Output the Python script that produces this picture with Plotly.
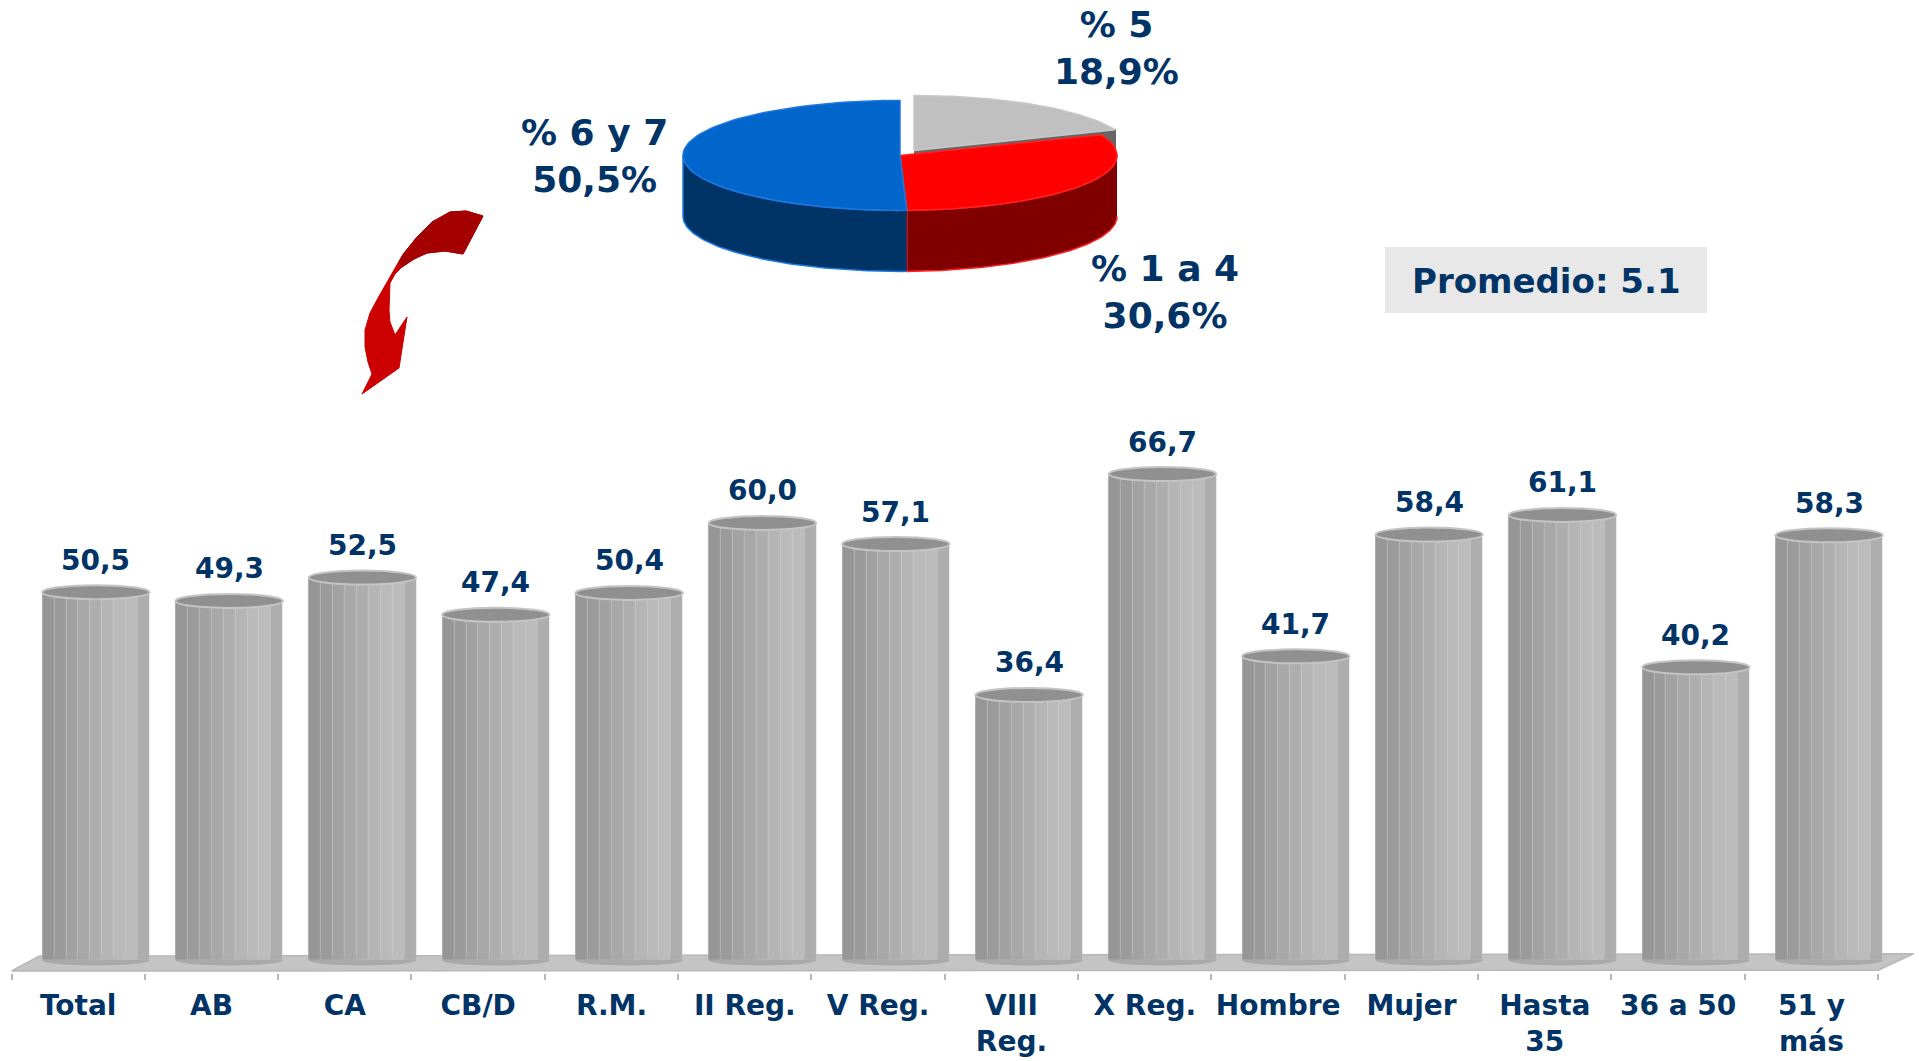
import numpy as np
import plotly.graph_objects as go

# ---------------- data ----------------
categories = ["Total", "AB", "CA", "CB/D", "R.M.", "II Reg.", "V Reg.", "VIII<br>Reg.",
              "X Reg.", "Hombre", "Mujer", "Hasta<br>35", "36 a 50", "51 y<br>más"]
values = [50.5, 49.3, 52.5, 47.4, 50.4, 60.0, 57.1, 36.4, 66.7, 41.7, 58.4, 61.1, 40.2, 58.3]

pie_labels = ["% 5", "% 1 a 4", "% 6 y 7"]
pie_values = [18.9, 30.6, 50.5]

promedio_text = "Promedio: 5.1"

# ---------------- style ----------------
W, H = 1919, 1061
NAVY = "#003366"
FONT = "DejaVu Sans"
PX_PER_CAT = 133.33
X_LEFT_PX = 11.5
Y0_PX = 960.3          # pixel of value 0
PX_PER_UNIT = 7.29
DOMAIN_BOTTOM_PX = 973
BAR_LEFT = -0.27
BAR_W = 0.805
strip_colors = ["#969696", "#9b9b9b", "#a2a2a2", "#a8a8a8", "#aeaeae",
                "#b5b5b5", "#bababa", "#bcbcbc", "#adadad"]

x_max = 13.5 + (1916 - 1878) / PX_PER_CAT
x_dom_right = (X_LEFT_PX + (x_max + 0.5) * PX_PER_CAT) / W
y_lo = -(DOMAIN_BOTTOM_PX - Y0_PX) / PX_PER_UNIT
y_hi = Y0_PX / PX_PER_UNIT

fig = go.Figure()

# cylinder bars built from vertical strips
sw = BAR_W / len(strip_colors)
for k, c in enumerate(strip_colors):
    fig.add_trace(go.Bar(
        x=categories, y=values, offset=BAR_LEFT + k * sw, width=sw,
        marker=dict(color=c, line=dict(color="rgba(205,205,205,0.35)", width=0.6)),
        showlegend=False, hoverinfo="skip", xaxis="x", yaxis="y"))

shapes = []
# floor
shapes.append(dict(type="path", xref="x", yref="y", layer="below",
                   path=f"M -0.5,-1.47 L -0.29,0.6 L {x_max - 0.02},0.9 L 13.5,-1.35 Z",
                   fillcolor="#c4c4c4", line=dict(color="#b8b8b8", width=1.5)))
for i, v in enumerate(values):
    x0 = i + BAR_LEFT
    x1 = x0 + BAR_W
    # bottom rounding
    shapes.append(dict(type="circle", xref="x", yref="y", layer="below",
                       x0=x0, x1=x1, y0=-0.7, y1=0.7,
                       fillcolor="#a9a9a9", line=dict(width=0)))
    # top ellipse
    shapes.append(dict(type="circle", xref="x", yref="y", layer="above",
                       x0=x0, x1=x1, y0=v - 0.96, y1=v + 0.96,
                       fillcolor="#909090", line=dict(color="#c4c4c4", width=2)))

annotations = []
for i, v in enumerate(values):
    annotations.append(dict(
        x=i + BAR_LEFT + BAR_W / 2, y=v, xref="x", yref="y", yshift=32,
        text=f"{v:.1f}".replace(".", ","), showarrow=False,
        font=dict(family=FONT, size=28, color=NAVY, weight="bold"),
        xanchor="center", yanchor="middle"))

# ---------------- 3D pie (pixel space axes x2/y2) ----------------
cx, cy, rx, ry, depth = 900.0, 155.4, 217.0, 55.0, 61.0
top_cols = ["#c0c0c0", "#ff0000", "#0066cc"]
side_cols = ["#666666", "#800000", "#003366"]
edge_cols = ["#c8c8c8", "#ff2020", "#1f78e0"]
offsets = [(14, -5), (0, 0), (0, 0)]

total = sum(pie_values)
angles = np.concatenate([[0], np.cumsum(pie_values) / total * 360.0])


def arc(t0, t1, off, dy=0.0, n=80):
    t = np.radians(np.linspace(t0, t1, n))
    return (cx + off[0] + rx * np.sin(t), cy + off[1] - ry * np.cos(t) + dy)


def add_poly(xs, ys, fill, line):
    fig.add_trace(go.Scatter(x=list(xs), y=list(ys), mode="lines", fill="toself",
                             fillcolor=fill, line=dict(color=line, width=1.5),
                             xaxis="x2", yaxis="y2", showlegend=False, hoverinfo="skip"))


for s in range(len(pie_values)):
    t0, t1 = angles[s], angles[s + 1]
    off = offsets[s]
    ccx, ccy = cx + off[0], cy + off[1]
    # radial end face of exploded slice
    if off != (0, 0):
        ex, ey = arc(t1, t1, off, n=1)
        add_poly([ccx, ex[0], ex[0], ccx], [ccy, ey[0], ey[0] + depth, ccy + depth],
                 side_cols[s], side_cols[s])
    # visible outer side wall
    a, b = max(t0, 90.0), min(t1, 270.0)
    if a < b:
        ux, uy = arc(a, b, off)
        lx, ly = arc(b, a, off, dy=depth)
        add_poly(np.concatenate([ux, lx]), np.concatenate([uy, ly]), side_cols[s], edge_cols[s])
    # top face
    ax_, ay_ = arc(t0, t1, off)
    add_poly(np.concatenate([[ccx], ax_, [ccx]]), np.concatenate([[ccy], ay_, [ccy]]),
             top_cols[s], edge_cols[s])

pie_label_pos = [(1116, 48), (1165, 292), (594, 156)]
for s, (lab, val) in enumerate(zip(pie_labels, pie_values)):
    annotations.append(dict(
        x=pie_label_pos[s][0], y=pie_label_pos[s][1], xref="x2", yref="y2",
        text=f"{lab}<br>" + f"{val:.1f}".replace(".", ",") + "%", showarrow=False,
        font=dict(family=FONT, size=36, color=NAVY, weight="bold"),
        xanchor="center", yanchor="middle"))

# Promedio box
shapes.append(dict(type="rect", xref="x2", yref="y2", x0=1385, x1=1707, y0=247, y1=313,
                   fillcolor="#e8e8e8", line=dict(width=0), layer="below"))
annotations.append(dict(x=1546, y=281, xref="x2", yref="y2", text=promedio_text,
                        showarrow=False, xanchor="center", yanchor="middle",
                        font=dict(family=FONT, size=34, color=NAVY, weight="bold")))

# curved red arrow
arrow_path = ("M 483,216 L 466,211 L 450,212 L 432,222 L 417,237 L 402,256 L 390,277 "
              "L 378,298 L 370,313 L 365,330 L 365,347 L 368,362 L 372,374 L 362,394 "
              "L 399,368 L 407,317 L 395,335 L 390,322 L 389,310 L 390,283 L 395,274 "
              "L 402,267 L 414,259 L 427,253 L 445,251 L 463,254 Z")
shapes.append(dict(type="path", xref="x2", yref="y2", path=arrow_path,
                   fillcolor="#cc0000", line=dict(color="#cc0000", width=1)))
tail_path = ("M 483,216 L 466,211 L 450,212 L 432,222 L 417,237 L 404,253 L 398,264 "
             "L 402,267 L 414,259 L 427,253 L 445,251 L 463,254 Z")
shapes.append(dict(type="path", xref="x2", yref="y2", path=tail_path,
                   fillcolor="#a50000", line=dict(color="#a50000", width=1)))

fig.update_layout(
    width=W, height=H,
    margin=dict(l=0, r=0, t=0, b=0),
    paper_bgcolor="white", plot_bgcolor="rgba(0,0,0,0)",
    barmode="overlay", bargap=0,
    showlegend=False,
    shapes=shapes, annotations=annotations,
    xaxis=dict(domain=[X_LEFT_PX / W, x_dom_right], range=[-0.5, x_max],
               type="category", categoryorder="array", categoryarray=categories,
               showgrid=False, zeroline=False, showline=False,
               ticks="outside", tickson="boundaries", ticklen=6, tickwidth=1.5,
               tickcolor="#b8b8b8", ticklabelstandoff=13, tickangle=0,
               tickfont=dict(family=FONT, size=28, color=NAVY, weight="bold"),
               fixedrange=True, anchor="y", automargin=False),
    yaxis=dict(domain=[(H - DOMAIN_BOTTOM_PX) / H, 1], range=[y_lo, y_hi],
               visible=False, showgrid=False, zeroline=False, fixedrange=True,
               anchor="x", automargin=False),
    xaxis2=dict(domain=[0, 1], range=[0, W], visible=False, fixedrange=True,
                anchor="y2", showgrid=False, zeroline=False),
    yaxis2=dict(domain=[0, 1], range=[H, 0], visible=False, fixedrange=True,
                anchor="x2", showgrid=False, zeroline=False),
)

fig.write_html("out.html", config={"displayModeBar": False},
               post_script="document.body.style.margin='0';document.body.style.overflow='hidden';")
